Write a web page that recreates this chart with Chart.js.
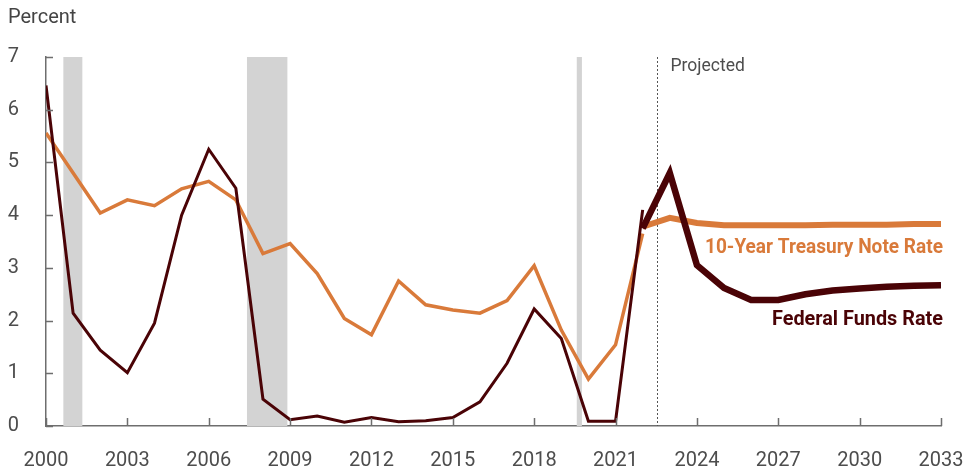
<!DOCTYPE html>
<html>
<head>
<meta charset="utf-8">
<script src="https://cdn.jsdelivr.net/npm/chart.js@4/dist/chart.umd.min.js"></script>
<style>
  html, body { margin: 0; padding: 0; background: #fff; }
  #wrap { position: relative; width: 966px; height: 473px; }
  #title { position: absolute; left: 8px; top: 4px; font: 20px Roboto, sans-serif; color: #444; }
</style>
</head>
<body>
<div id="wrap">
  <div id="title">Percent</div>
  <canvas id="ratesChart" width="966" height="473"></canvas>
</div>
<script>
// actual values, fourth quarter of each year
const histYears = [2000, 2001, 2002, 2003, 2004, 2005, 2006, 2007, 2008, 2009, 2010, 2011,
    2012, 2013, 2014, 2015, 2016, 2017, 2018, 2019, 2020, 2021, 2022];
const fedHist = [6.46, 2.14, 1.44, 1.01, 1.95, 4.00, 5.25, 4.51, 0.51, 0.12, 0.19, 0.07,
    0.16, 0.08, 0.10, 0.16, 0.46, 1.19, 2.22, 1.66, 0.09, 0.09, 4.10];
const treasuryHist = [5.56, 4.80, 4.04, 4.29, 4.18, 4.50, 4.64, 4.29, 3.27, 3.46, 2.89, 2.04,
    1.73, 2.75, 2.30, 2.20, 2.14, 2.38, 3.04, 1.82, 0.89, 1.54, 3.65];

// projections
const projYears = [2022, 2023, 2024, 2025, 2026, 2027, 2028, 2029, 2030, 2031, 2032, 2033];
const fedProj = [3.75, 4.80, 3.05, 2.62, 2.39, 2.39, 2.50, 2.57, 2.61, 2.64, 2.66, 2.67];
const treasuryProj = [3.78, 3.95, 3.85, 3.81, 3.81, 3.81, 3.81, 3.82, 3.82, 3.82, 3.83, 3.83];

const recessions = [[2000.64, 2001.34], [2007.41, 2008.90], [2019.57, 2019.76]];
const projectedStart = 2022.53;

const ORANGE = '#d97a3a';
const DARK = '#4a0306';
const TEXT = '#4d4d4d';
const AXIS = '#6e6e6e';

function points(xs, ys) {
    return xs.map((x, i) => ({ x: x, y: ys[i] }));
}

const shading = {
    id: 'shading',
    beforeDatasetsDraw(chart) {
        const { ctx, chartArea, scales } = chart;
        const x = scales.x;
        ctx.save();
        ctx.fillStyle = '#d3d3d3';
        recessions.forEach(r => {
            const x0 = x.getPixelForValue(r[0]);
            const x1 = x.getPixelForValue(r[1]);
            ctx.fillRect(x0, chartArea.top, x1 - x0, chartArea.bottom - chartArea.top);
        });
        // projected divider
        const px = Math.round(x.getPixelForValue(projectedStart)) + 0.5;
        ctx.strokeStyle = '#555';
        ctx.lineWidth = 1;
        ctx.setLineDash([2, 2]);
        ctx.beginPath();
        ctx.moveTo(px, chartArea.top);
        ctx.lineTo(px, chartArea.bottom);
        ctx.stroke();
        ctx.setLineDash([]);
        ctx.fillStyle = TEXT;
        ctx.font = '17.5px Roboto, sans-serif';
        ctx.textBaseline = 'middle';
        ctx.fillText('Projected', px + 13, chartArea.top + 10);
        ctx.restore();
    },
    afterDraw(chart) {
        const { ctx, chartArea, scales } = chart;
        ctx.save();
        // inward tick marks
        ctx.strokeStyle = AXIS;
        ctx.lineWidth = 1.5;
        ctx.beginPath();
        scales.x.ticks.forEach(t => {
            const px = Math.round(scales.x.getPixelForValue(t.value)) + 0.5;
            ctx.moveTo(px, chartArea.bottom);
            ctx.lineTo(px, chartArea.bottom - 8);
        });
        scales.y.ticks.forEach(t => {
            const py = Math.round(scales.y.getPixelForValue(t.value)) + 0.5;
            ctx.moveTo(chartArea.left, py);
            ctx.lineTo(chartArea.left + 7, py);
        });
        ctx.stroke();

        // series labels
        const right = scales.x.getPixelForValue(2033) + 2;
        ctx.font = 'bold 20px Roboto, sans-serif';
        ctx.textAlign = 'right';
        ctx.textBaseline = 'middle';
        ctx.fillStyle = ORANGE;
        ctx.fillText('10-Year Treasury Note Rate', right, scales.y.getPixelForValue(3.38), 238);
        ctx.fillStyle = DARK;
        ctx.fillText('Federal Funds Rate', right, scales.y.getPixelForValue(2.01), 171);
        ctx.restore();
    }
};

const ctx = document.getElementById('ratesChart').getContext('2d');
new Chart(ctx, {
    type: 'line',
    data: {
        datasets: [
            { label: 'Federal Funds Rate (projected)', data: points(projYears, fedProj),
              borderColor: DARK, borderWidth: 6.5, order: 1 },
            { label: 'Federal Funds Rate', data: points(histYears, fedHist),
              borderColor: DARK, borderWidth: 3, order: 2 },
            { label: '10-Year Treasury Note Rate (projected)', data: points(projYears, treasuryProj),
              borderColor: ORANGE, borderWidth: 6, order: 3 },
            { label: '10-Year Treasury Note Rate', data: points(histYears, treasuryHist),
              borderColor: ORANGE, borderWidth: 3.5, order: 4 }
        ]
    },
    options: {
        responsive: false,
        animation: false,
        events: [],
        layout: { padding: { left: 0, right: 25, top: 57, bottom: 0 } },
        elements: {
            point: { radius: 0 },
            line: { tension: 0, borderJoinStyle: 'miter', fill: false }
        },
        plugins: {
            legend: { display: false },
            tooltip: { enabled: false }
        },
        scales: {
            x: {
                type: 'linear',
                min: 2000,
                max: 2033,
                afterFit: s => {
                    s.height = 47;
                    s.paddingLeft = 0;
                    s.paddingRight = 0;
                },
                afterBuildTicks: s => {
                    s.ticks = [];
                    for (let v = 2000; v <= 2033; v += 3) s.ticks.push({ value: v });
                },
                grid: { display: false, drawTicks: false },
                border: { display: true, color: AXIS, width: 1.5 },
                ticks: {
                    padding: 23,
                    maxRotation: 0,
                    color: TEXT,
                    font: { family: 'Roboto', size: 20 },
                    callback: v => String(v)
                }
            },
            y: {
                min: 0,
                max: 7,
                afterFit: s => { s.width = 46; },
                grid: { display: false, drawTicks: false },
                border: { display: true, color: AXIS, width: 1.5 },
                ticks: {
                    stepSize: 1,
                    padding: 27,
                    color: TEXT,
                    font: { family: 'Roboto', size: 20 }
                }
            }
        }
    },
    plugins: [shading]
});
</script>
</body>
</html>
